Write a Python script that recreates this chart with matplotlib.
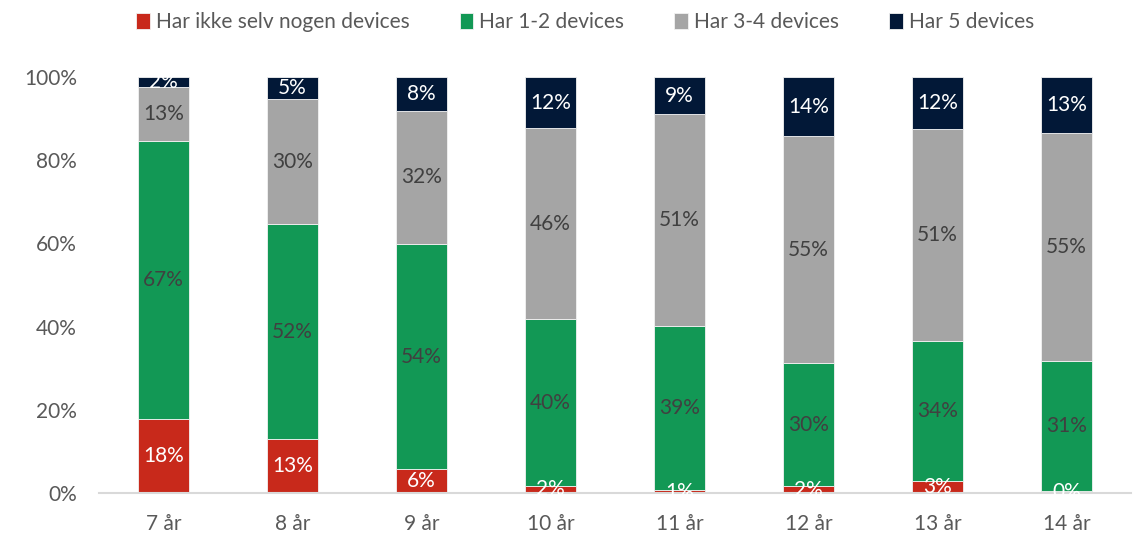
import matplotlib
matplotlib.use("Agg")
import matplotlib.pyplot as plt
import numpy as np

categories = ["7 år", "8 år", "9 år", "10 år", "11 år", "12 år", "13 år", "14 år"]
series_names = ["Har ikke selv nogen devices", "Har 1-2 devices", "Har 3-4 devices", "Har 5 devices"]
none_dev = [17.8, 13.0, 5.7, 1.7, 0.7, 1.6, 2.9, 0.4]
dev_1_2 = [66.8, 51.6, 54.2, 40.1, 39.4, 29.6, 33.6, 31.3]
dev_3_4 = [13.0, 30.1, 31.9, 45.9, 51.0, 54.6, 51.1, 54.9]
dev_5 = [2.4, 5.3, 8.2, 12.3, 8.9, 14.2, 12.4, 13.4]
y_ticks = [0, 20, 40, 60, 80, 100]

colors = ["#C8291B", "#129855", "#A5A5A5", "#021837"]
label_colors = ["white", "#404040", "#404040", "white"]

plt.rcParams['font.family'] = ['Lato', 'DejaVu Sans']
FS = 15

fig = plt.figure(figsize=(11.34, 5.35), dpi=100)
ax = fig.add_axes([0.0873, 0.0785, 0.9101, 0.7775])

x = np.arange(len(categories))
bottom = np.zeros(len(categories))
handles = []
for vals, c, lc, name in zip([none_dev, dev_1_2, dev_3_4, dev_5], colors, label_colors, series_names):
    vals = np.array(vals)
    bars = ax.bar(x, vals, 0.40, bottom=bottom, color=c, edgecolor="#f2f2f2", linewidth=0.6, label=name)
    handles.append(bars)
    for xi, b, v in zip(x, bottom, vals):
        ax.text(xi, b + v / 2, f"{v:.0f}%", ha="center", va="center", color=lc, fontsize=FS)
    bottom += vals

ax.set_xlim(-0.5, len(categories) - 0.5)
ax.set_ylim(0, 100)
ax.set_yticks(y_ticks)
ax.set_yticklabels([f"{t}%" for t in y_ticks])
ax.set_xticks(x)
ax.set_xticklabels(categories)
ax.tick_params(axis="y", length=0, pad=16, labelsize=FS, labelcolor="#595959")
ax.tick_params(axis="x", length=0, pad=15, labelsize=FS, labelcolor="#595959")
for s in ["top", "right", "left"]:
    ax.spines[s].set_visible(False)
ax.spines["bottom"].set_color("#D9D9D9")
ax.spines["bottom"].set_linewidth(1.5)

leg = fig.legend(handles=handles, labels=series_names, loc="upper center", ncol=4,
                 bbox_to_anchor=(0.516, 1.012), frameon=False, fontsize=FS,
                 handlelength=0.65, handleheight=0.75, handletextpad=0.3, columnspacing=2.4)
for t in leg.get_texts():
    t.set_color("#595959")

fig.savefig("out.png", dpi=100)
